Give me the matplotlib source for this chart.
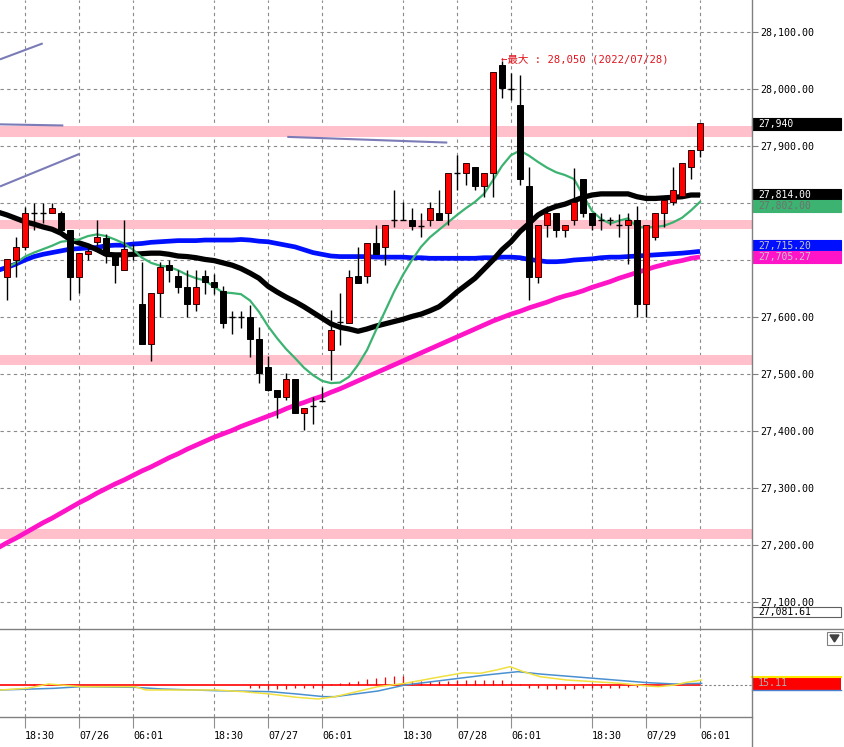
import numpy as np
import matplotlib
matplotlib.use("Agg")
import matplotlib.pyplot as plt
from matplotlib.patches import Rectangle, Polygon
from matplotlib.transforms import blended_transform_factory
from matplotlib.lines import Line2D

# ---------------- data ----------------
tick_idx = [2, 8, 14, 23, 29, 35, 44, 50, 56, 65, 71, 77]
tick_labels = ['18:30', '07/26', '06:01', '18:30', '07/27', '06:01',
               '18:30', '07/28', '06:01', '18:30', '07/29', '06:01']

opens = [27671,27700,27723,27782,27782,27782,27783,27753,27671,27710,27731,27738,27709,27682,27710,27623,27552,27642,27691,27672,
         27652,27623,27672,27662,27645,27600,27600,27600,27561,27513,27472,27460,27491,27431,27443,27453,27542,27592,27590,27672,
         27672,27730,27722,27771,27771,27771,27760,27771,27782,27782,27852,27852,27863,27830,27852,28042,28000,27972,27830,27671,
         27761,27782,27753,27770,27842,27782,27770,27770,27761,27761,27771,27622,27741,27782,27802,27812,27863,27893]
highs = [27701,27741,27793,27800,27800,27800,27786,27753,27712,27722,27771,27745,27712,27771,27728,27697,27642,27697,27700,27682,
         27682,27682,27682,27675,27655,27611,27611,27621,27583,27531,27472,27501,27491,27441,27460,27478,27612,27642,27682,27723,
         27730,27761,27761,27823,27802,27792,27782,27802,27823,27852,27884,27871,27863,27852,28030,28050,28028,28025,27863,27761,
         27794,27782,27761,27861,27842,27782,27782,27776,27780,27782,27794,27761,27782,27805,27863,27871,27893,27940]
lows = [27630,27671,27718,27753,27765,27782,27747,27630,27642,27700,27725,27695,27659,27682,27700,27552,27522,27600,27662,27642,
        27600,27610,27640,27640,27580,27571,27580,27530,27484,27470,27422,27455,27431,27402,27412,27453,27489,27551,27590,27660,
        27660,27711,27691,27758,27771,27753,27741,27760,27771,27761,27823,27831,27823,27811,27811,27985,27980,27832,27630,27660,
        27741,27741,27741,27761,27775,27753,27753,27761,27741,27693,27600,27600,27735,27758,27796,27812,27842,27881]
closes = [27701,27723,27782,27782,27782,27792,27753,27671,27712,27716,27741,27709,27691,27720,27710,27552,27642,27688,27682,27652,
          27623,27652,27662,27653,27590,27600,27600,27561,27502,27472,27460,27491,27431,27441,27443,27453,27578,27592,27671,27660,
          27730,27711,27761,27771,27771,27760,27760,27792,27771,27852,27852,27871,27830,27852,28030,28001,28000,27842,27671,27761,
          27782,27753,27761,27802,27782,27761,27770,27770,27761,27770,27622,27761,27782,27805,27823,27871,27893,27940]

# moving averages, first value belongs to index -1
ma_black = [27784,27779,27773,27767,27763,27758,27754,27747,27736,27730,27725,27718,27710,27709,27709,27710,27711,27712,27712,27710,
            27707,27706,27704,27701,27699,27695,27691,27685,27677,27668,27654,27644,27635,27627,27618,27608,27598,27588,27582,27579,
            27575,27579,27584,27588,27592,27596,27601,27605,27611,27618,27630,27644,27656,27668,27684,27700,27718,27732,27750,27764,
            27779,27788,27794,27798,27804,27810,27814,27816,27816,27816,27816,27811,27808,27808,27809,27810,27811,27814,27814]
ma_blue = [27682,27687,27693,27700,27706,27710,27713,27716,27719,27720,27721,27722,27725,27726,27726,27728,27729,27731,27732,27733,
           27734,27734,27734,27735,27735,27735,27735,27736,27735,27733,27732,27729,27726,27723,27718,27713,27710,27707,27706,27706,
           27706,27706,27705,27705,27705,27705,27704,27704,27703,27703,27703,27703,27703,27703,27704,27704,27705,27705,27704,27701,
           27699,27697,27697,27698,27700,27701,27702,27704,27705,27705,27706,27707,27708,27709,27710,27711,27712,27713.5,27715.2]
ma_magenta = [27195,27204,27212,27221,27230,27239,27247,27256,27265,27274,27282,27291,27299,27307,27314,27322,27330,27337,27345,27353,
              27360,27368,27375,27382,27389,27395,27401,27408,27414,27420,27426,27432,27439,27445,27450,27456,27461,27468,27474,27481,
              27488,27495,27502,27509,27516,27523,27530,27537,27544,27551,27558,27565,27572,27579,27586,27593,27599,27605,27610,27616,
              27621,27626,27632,27637,27641,27646,27652,27657,27662,27668,27673,27678,27683,27688,27692,27696,27699,27703,27705.27]
# green starts at index 0
ma_green = [27687,27695,27706,27713,27719,27725,27732,27734,27736,27742,27745,27742,27736,27729,27718,27704,27695,27690,27688,27682,
            27674,27668,27664,27653,27643,27642,27640,27629,27609,27584,27563,27544,27528,27511,27498,27488,27484,27485,27495,27516,
            27542,27577,27610,27644,27674,27700,27723,27740,27753,27766,27779,27791,27802,27816,27840,27865,27884,27892,27883,27872,
            27862,27854,27849,27842,27814,27786,27772,27764,27769,27773,27758,27757,27758,27760,27766,27774,27787,27802]

band_levels = [(27916, 27935), (27754, 27771), (27515, 27533), (27210, 27228)]
trend_lines = [((-0.78, 28052), (3.97, 28080)),
               ((-0.78, 27938), (6.26, 27936)),
               ((-0.78, 27829), (8.03, 27886)),
               ((31.14, 27916), (48.92, 27906))]

# lower panel (MACD-like), sampled (index, value)
macd_x = [-0.78, 2.22, 4.62, 8.22, 14.22, 15.44, 23.22, 26.22, 29.22, 32.22, 34.56, 36.44, 38.22, 41.22, 44.22, 47.22,
          50.78, 52.56, 54.39, 55.89, 57.39, 59.22, 62.18, 65.18, 68.18, 71.18, 72.38, 74.18, 75.33, 77.18]
macd_y = [-45, -30, 9, -15, -15, -45, -45, -60, -81, -111, -126, -105, -72, -15, 15, 60,
          111, 105, 135, 165, 120, 75, 45, 30, 15, -9, -15, 0, 21, 45]
sig_x = [-0.78, 5.22, 8.22, 14.22, 17.22, 23.22, 29.22, 32.22, 35.22, 36.44, 41.22, 44.22, 47.22, 50.22, 53.22, 56.78,
         59.22, 65.22, 71.18, 74.18, 77.18]
sig_y = [-45, -30, -15, -21, -36, -51, -60, -81, -105, -105, -54, 0, 30, 60, 90, 120,
         99, 60, 21, 9, 15]
hist = [0, 0, 0, 10, 10, 10, 8, 0, 0, 0, 0, 0, 0, 0, 0, 0, 0, 0, 0, 0,
        0, 0, 0, 0, 0, 0, 0, -30, -30, -35, -35, -35, -30, -30, -30, -25, 10, 20, 30, 40,
        50, 60, 70, 80, 85, 40, 40, 40, 40, 40, 45, 45, 45, 45, 45, 45, 20, 10, -30, -30,
        -35, -35, -35, -35, -30, -30, -30, -30, -25, -20, -20, -10, 0, 0, 0, 0, 0, 0]

# ---------------- figure ----------------
W, H = 845, 747
fig = plt.figure(figsize=(W / 100, H / 100), dpi=100)
fig.patch.set_facecolor('white')

PLOT_R = 752
MAIN_B = 629
LOW_B = 717
xl = (-7 / 9, (PLOT_R - 7) / 9)

ax = fig.add_axes([0, (H - MAIN_B) / H, PLOT_R / W, MAIN_B / H])
ax2 = fig.add_axes([0, (H - LOW_B) / H, PLOT_R / W, (LOW_B - MAIN_B) / H])

ylo = 28100 - (MAIN_B - 32) / 0.57
yhi = 28100 + 32 / 0.57
ax.set_xlim(*xl)
ax.set_ylim(ylo, yhi)
ax2.set_xlim(*xl)
ax2.set_ylim(-(LOW_B - 685) * 9, (685 - MAIN_B) * 9)

for a in (ax, ax2):
    for s in a.spines.values():
        s.set_visible(False)
    a.set_facecolor('none')

grid_kw = dict(color='#8a8a8a', lw=0.8, ls=(0, (3, 3)), zorder=0.5)
for t in tick_idx:
    ax.axvline(t, **grid_kw)
    ax2.axvline(t, **grid_kw)
yt = list(range(27100, 28101, 100))
for v in yt:
    ax.axhline(v, **grid_kw)

# bands
for lo, hi in band_levels:
    ax.axhspan(lo, hi, color='#ffc0cb', lw=0, zorder=1)

# MAs
ax.plot(np.arange(len(ma_magenta)) - 1, ma_magenta, color='#ff14c8', lw=3.4, zorder=2, solid_capstyle='butt')
ax.plot(np.arange(len(ma_blue)) - 1, ma_blue, color='#0010ff', lw=3.4, zorder=2, solid_capstyle='butt')
ax.plot(np.arange(len(ma_black)) - 1, ma_black, color='#000000', lw=3.8, zorder=2, solid_capstyle='butt')
ax.plot(np.arange(len(ma_green)), ma_green, color='#3cb371', lw=1.6, zorder=2.1)

# candles
idx = np.arange(len(opens))
ax.vlines(idx, lows, highs, color='black', lw=1.0, zorder=3)
bw = 0.72
for i in idx:
    o, c = opens[i], closes[i]
    if abs(c - o) < 2:
        ax.hlines(o, i - bw / 2, i + bw / 2, color='black', lw=1.0, zorder=3.5)
    elif c > o:
        ax.bar(i, c - o, bottom=o, width=bw, color='#ff0000', edgecolor='#300000', lw=0.7, zorder=3.5)
    else:
        ax.bar(i, o - c, bottom=c, width=bw, color='#000000', edgecolor='#000000', lw=0.7, zorder=3.5)

# trend lines
for (x0, y0), (x1, y1) in trend_lines:
    ax.plot([x0, x1], [y0, y1], color='#7b7bb8', lw=1.5, zorder=4, solid_capstyle='butt')

# annotation
ax.text(54.9, 28053, '←最大 : 28,050 (2022/07/28)', color='#e0141e', fontsize=7.6,
        family=['DejaVu Sans Mono', 'Noto Sans CJK JP'], ha='left', va='center', zorder=6)

# right axis (27,700 / 27,800 are hidden behind value boxes in the reference)
ax.set_xticks([])
ax.yaxis.tick_right()
ax.set_yticks(yt)
ax.set_yticklabels(['' if v in (27700, 27800) else f'{v:,.2f}' for v in yt],
                   family='DejaVu Sans Mono', fontsize=7.2)
ax.tick_params(axis='y', length=4, width=0.8, color='#808080', pad=2)

# value boxes (pixel rows: top, bottom)
bx_w = (841 - 752) / PLOT_R
def py2v(y):
    return 28100 - (y - 32) / 0.57

def vbox(top, bot, txt, fc, tc, ec=None):
    tb = blended_transform_factory(ax.transAxes, ax.transData)
    ax.add_patch(Rectangle((1.0, py2v(bot)), bx_w, py2v(top) - py2v(bot), transform=tb, clip_on=False,
                           facecolor=fc, edgecolor=ec if ec else fc, lw=0.8, zorder=10))
    ax.text(1.0 + 6 / PLOT_R, py2v((top + bot) / 2), txt, transform=tb, clip_on=False, color=tc,
            fontsize=7.0, family='DejaVu Sans Mono', va='center', ha='left', zorder=11)

vbox(118, 129.5, '27,940', '#000000', 'white')
vbox(189.5, 200.5, '27,814.00', '#000000', 'white')
vbox(200.5, 211.5, '27,802.00', '#3cb371', '#707070')
vbox(240.5, 251.5, '27,715.20', '#0010ff', '#c8c8c8')
vbox(251.5, 262.5, '27,705.27', '#ff14c8', '#c8c8c8')
vbox(607, 617.5, '27,081.61', '#ffffff', 'black', ec='#606060')

# lower panel
ax2.axhline(0, xmin=0, xmax=700 / PLOT_R, color='#ff0000', lw=1.2, zorder=2)
ax2.plot([77.05, xl[1]], [0, 0], color='#808080', lw=0.8, ls=(0, (2, 2)), zorder=2)
ax2.vlines(np.arange(len(hist)), 0, hist, color='#ff0000', lw=0.9, zorder=2.5)
ax2.plot(sig_x, sig_y, color='#4a90d0', lw=1.1, zorder=3)
ax2.plot(macd_x, macd_y, color='#f0e040', lw=1.1, zorder=3.2)

ax2.set_yticks([])
ax2.set_xticks(tick_idx)
ax2.set_xticklabels(tick_labels, family='DejaVu Sans Mono', fontsize=7.2, ha='left')
ax2.tick_params(axis='x', length=8, width=0.8, color='#909090', pad=2, direction='out')

tb2 = blended_transform_factory(ax2.transAxes, ax2.transData)
v15 = 15.11
ax2.add_patch(Rectangle((1.0, v15 - 6.5 * 9), bx_w, 13 * 9, transform=tb2, clip_on=False,
                        facecolor='#ff0000', edgecolor='none', zorder=10))
ax2.plot([1.0, 1.0 + bx_w], [v15 + 6.5 * 9, v15 + 6.5 * 9], transform=tb2, clip_on=False,
         color='#ffe800', lw=1.5, zorder=11)
ax2.plot([1.0, 1.0 + bx_w], [v15 - 6.5 * 9, v15 - 6.5 * 9], transform=tb2, clip_on=False,
         color='#4a80d0', lw=1.0, zorder=11)
ax2.text(1.0 + 6 / PLOT_R, v15, '15.11', transform=tb2, clip_on=False, color='#b0b0b0',
         fontsize=7.2, family='DejaVu Sans Mono', va='center', ha='left', zorder=12)

# frame lines (figure pixels)
def fl(x0, y0, x1, y1, **kw):
    fig.add_artist(Line2D([x0 / W, x1 / W], [1 - y0 / H, 1 - y1 / H], transform=fig.transFigure, **kw))

fl(PLOT_R, 0, PLOT_R, H, color='#808080', lw=1.0)
fl(0, MAIN_B, W, MAIN_B, color='#808080', lw=1.0)
fl(0, LOW_B, PLOT_R, LOW_B, color='#808080', lw=1.0)

# dropdown icon
fig.add_artist(Rectangle((827 / W, 1 - 645 / H), 15 / W, 13 / H, transform=fig.transFigure,
                         facecolor='white', edgecolor='#808080', lw=0.8))
fig.add_artist(Polygon([[830 / W, 1 - 635 / H], [839 / W, 1 - 635 / H], [834.5 / W, 1 - 642 / H]],
                       closed=True, transform=fig.transFigure, facecolor='#404040', edgecolor='#404040'))

fig.savefig('out.png', dpi=100, facecolor='white')
